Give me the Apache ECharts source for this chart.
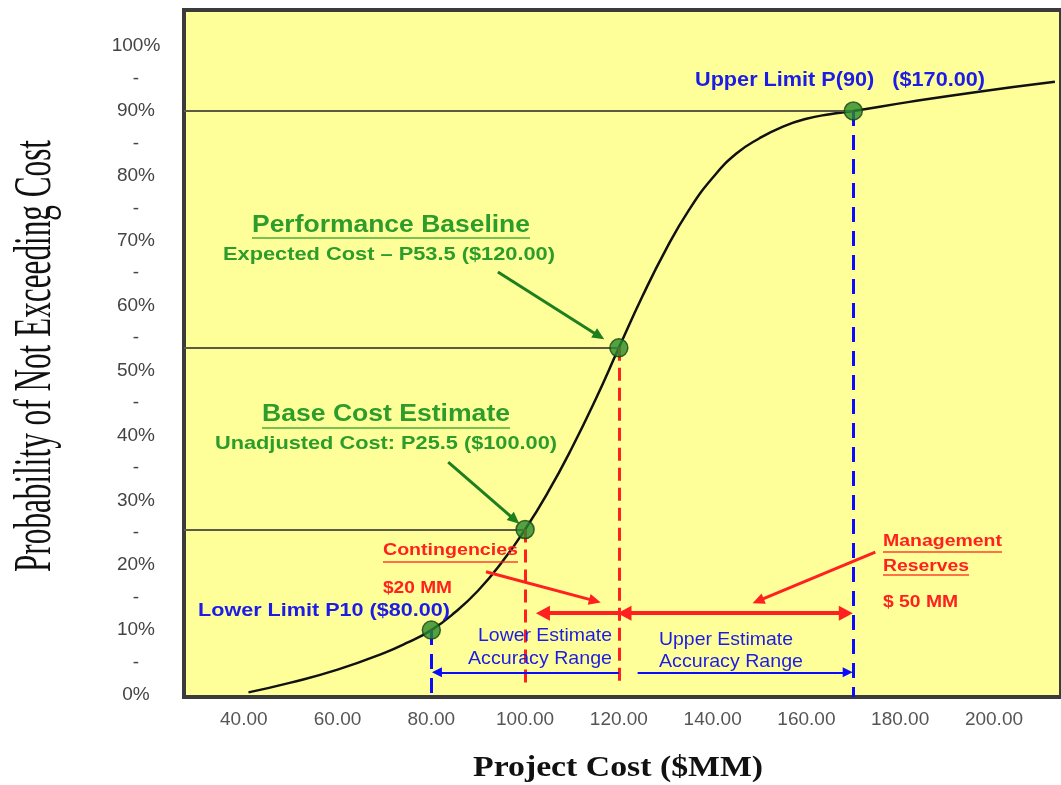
<!DOCTYPE html>
<html>
<head>
<meta charset="utf-8">
<script src="https://cdn.jsdelivr.net/npm/echarts@6/dist/echarts.min.js"></script>
<style>
  html, body { margin: 0; padding: 0; background: #ffffff; }
  #chart { width: 1061px; height: 785px; }
</style>
</head>
<body>
<div id="chart"></div>
<script>
// Cumulative cost distribution (S-curve): project cost ($MM) vs. probability of not exceeding it (%)
const costX = [41, 50, 60, 70, 75, 80, 85, 90, 95, 100, 105, 110, 115, 120, 125, 130, 135, 140, 145, 150, 155, 160, 165, 170, 182, 196, 213];
const probY = [0.4, 1.9, 3.9, 6.5, 8.1, 10.0, 12.7, 16.1, 20.4, 25.5, 31.4, 38.1, 45.5, 53.5, 61.4, 68.6, 74.8, 79.7, 83.4, 85.8, 87.6, 88.8, 89.5, 90.0, 91.4, 92.9, 94.5];

// Key estimate points on the curve: lower limit, base cost, performance baseline, upper limit
const keyCost = [80, 100, 120, 170];
const keyProb = [10, 25.5, 53.5, 90];

// Axis tick values
const costTicks = [40, 60, 80, 100, 120, 140, 160, 180, 200];
const probTicks = [0, 5, 10, 15, 20, 25, 30, 35, 40, 45, 50, 55, 60, 65, 70, 75, 80, 85, 90, 95, 100];

// Axis extents
const COST_MIN = 27.25, COST_MAX = 214.3;
const PROB_MIN = -0.31, PROB_MAX = 105.56;

// Heights of the range arrows along the bottom
const RESERVE_ARROW_Y = 12.6;
const ACCURACY_ARROW_Y = 3.5;
const CONTINGENCY_DASH_END = 1.85;

const BLUE = '#1c1ce6', BLUE_LINE = '#0b0bff';
const GREEN = '#2c9c2c', GREEN_ARROW = '#1f7f1f';
const RED = '#ff2020';
const GUIDE = '#5c5c46';

const [lowCost, baseCost, expCost, upCost] = keyCost;
const [lowP, baseP, expP, upP] = keyProb;
const contingency = expCost - baseCost;
const reserves = upCost - expCost;

const money = v => '$' + v.toFixed(2);

const chart = echarts.init(document.getElementById('chart'), null, { renderer: 'canvas' });

// Lines that hang off the key points
const guideLines = [];
// horizontal guides from the probability axis to the key points
[1, 2, 3].forEach(i => {
  guideLines.push([
    { coord: [COST_MIN, keyProb[i]], symbol: 'none', lineStyle: { color: GUIDE, width: 2, type: 'solid' } },
    { coord: [keyCost[i], keyProb[i]], symbol: 'none' }
  ]);
});
// blue dashed drops at the lower and upper limits
[0, 3].forEach(i => {
  guideLines.push([
    { coord: [keyCost[i], keyProb[i]], symbol: 'none', lineStyle: { color: BLUE_LINE, width: 3, type: [15, 9] } },
    { coord: [keyCost[i], PROB_MIN], symbol: 'none' }
  ]);
});
// red dashed drops at base cost and expected cost
[1, 2].forEach(i => {
  guideLines.push([
    { coord: [keyCost[i], keyProb[i]], symbol: 'none', lineStyle: { color: RED, width: 3, type: [13, 7] } },
    { coord: [keyCost[i], CONTINGENCY_DASH_END], symbol: 'none' }
  ]);
});
// contingency arrow (expected cost back to base cost)
guideLines.push([
  { coord: [expCost, RESERVE_ARROW_Y], symbol: 'none', lineStyle: { color: RED, width: 4, type: 'solid' } },
  { coord: [baseCost + 3.8, RESERVE_ARROW_Y], symbol: 'triangle', symbolSize: [15, 14] }
]);
// management reserve arrow (expected cost to upper limit)
guideLines.push([
  { coord: [expCost + 1.2, RESERVE_ARROW_Y], symbol: 'triangle', symbolSize: [15, 14], lineStyle: { color: RED, width: 4, type: 'solid' } },
  { coord: [upCost - 1.6, RESERVE_ARROW_Y], symbol: 'triangle', symbolSize: [15, 14] }
]);
// accuracy range arrows
guideLines.push([
  { coord: [expCost, ACCURACY_ARROW_Y], symbol: 'none', lineStyle: { color: BLUE_LINE, width: 2, type: 'solid' } },
  { coord: [lowCost + 1.2, ACCURACY_ARROW_Y], symbol: 'triangle', symbolSize: [10, 10] }
]);
guideLines.push([
  { coord: [expCost + 4, ACCURACY_ARROW_Y], symbol: 'none', lineStyle: { color: BLUE_LINE, width: 2, type: 'solid' } },
  { coord: [upCost - 1.2, ACCURACY_ARROW_Y], symbol: 'triangle', symbolSize: [10, 10] }
]);

// Callout leaders from the annotation text towards the marks
const callouts = [
  { from: [94.2, 65.2], to: [115.8, 55.3], color: GREEN_ARROW },
  { from: [83.6, 35.9], to: [97.8, 27.0], color: GREEN_ARROW },
  { from: [91.65, 19.0], to: [114.9, 14.5], color: RED },
  { from: [174.7, 22.0], to: [149.7, 14.5], color: RED }
];
const calloutLines = callouts.map(c => [
  { coord: c.from, symbol: 'none', lineStyle: { color: c.color, width: 3, type: 'solid' } },
  { coord: c.to, symbol: 'triangle', symbolSize: [11, 12] }
]);

// Text annotations: [text, left, centre y, font size, weight, colour, target width, underline y]
const notes = [
  [`Upper Limit P(${upP})   (${money(upCost)})`, 695, 80, 20, 'bold', BLUE, 290, null],
  ['Performance Baseline', 252, 226, 23, 'bold', GREEN, 278, 238],
  [`Expected Cost \u2013 P${expP} (${money(expCost)})`, 223, 255, 18.5, 'bold', GREEN, 332, null],
  ['Base Cost Estimate', 262, 415, 23, 'bold', GREEN, 248, 428],
  [`Unadjusted Cost: P${baseP} (${money(baseCost)})`, 215, 444, 18.5, 'bold', GREEN, 342, null],
  ['Contingencies', 383, 551, 16, 'bold', RED, 135, 562],
  [`$${contingency} MM`, 383, 589, 16, 'bold', RED, 69, null],
  ['Management', 883, 542, 16, 'bold', RED, 119, 552],
  ['Reserves', 883, 567, 16, 'bold', RED, 86, 575],
  [`$ ${reserves} MM`, 883, 603, 16, 'bold', RED, 75, null],
  [`Lower Limit P${lowP} (${money(lowCost)})`, 198, 611, 19, 'bold', BLUE, 252, null],
  ['Lower Estimate', 478, 636, 18.5, 'normal', BLUE, 134, null],
  ['Accuracy Range', 468, 659, 18.5, 'normal', BLUE, 144, null],
  ['Upper Estimate', 659, 640, 18.5, 'normal', BLUE, 134, null],
  ['Accuracy Range', 659, 662, 18.5, 'normal', BLUE, 144, null]
];

const measureCtx = document.createElement('canvas').getContext('2d');
function widthScale(text, font, target) {
  measureCtx.font = font;
  return target / measureCtx.measureText(text).width;
}

const graphics = [];
notes.forEach(([text, left, cy, size, weight, color, width, uy]) => {
  const font = `${weight} ${size}px "Liberation Sans", Arial, sans-serif`;
  graphics.push({
    type: 'text', x: left, y: cy, z: 20,
    scaleX: widthScale(text, font, width),
    style: { text, font, fill: color, align: 'left', verticalAlign: 'middle' }
  });
  if (uy !== null) {
    graphics.push({
      type: 'line', z: 20,
      shape: { x1: left, y1: uy, x2: left + width, y2: uy },
      style: { stroke: color, lineWidth: 1.6, opacity: 0.85 }
    });
  }
});

// Axis titles
const yTitle = 'Probability of Not Exceeding Cost';
const yTitleFont = '53px "Liberation Serif", "Times New Roman", serif';
graphics.push({
  type: 'text', x: 36, y: 356, rotation: Math.PI / 2, z: 20,
  scaleX: widthScale(yTitle, yTitleFont, 432),
  style: { text: yTitle, font: yTitleFont, fill: '#111', align: 'center', verticalAlign: 'middle' }
});
const xTitle = 'Project Cost ($MM)';
const xTitleFont = 'bold 30px "Liberation Serif", "Times New Roman", serif';
graphics.push({
  type: 'text', x: 618, y: 768, z: 20,
  scaleX: widthScale(xTitle, xTitleFont, 290),
  style: { text: xTitle, font: xTitleFont, fill: '#111', align: 'center', verticalAlign: 'middle' }
});

const option = {
  animation: false,
  backgroundColor: '#ffffff',
  grid: {
    left: 184, top: 10, right: -6, bottom: 88,
    show: true, backgroundColor: '#FFFF99',
    borderColor: '#3b3b3b', borderWidth: 4
  },
  xAxis: {
    type: 'value', min: COST_MIN, max: COST_MAX,
    axisLine: { show: true, onZero: false, lineStyle: { color: '#3b3b3b', width: 4 } },
    axisTick: { show: false },
    splitLine: { show: false },
    axisLabel: {
      customValues: costTicks,
      formatter: v => v.toFixed(2),
      fontFamily: '"Liberation Sans", Arial, sans-serif',
      fontSize: 19, color: '#555555', margin: 13
    }
  },
  yAxis: {
    type: 'value', min: PROB_MIN, max: PROB_MAX,
    axisLine: { show: true, onZero: false, lineStyle: { color: '#3b3b3b', width: 4 } },
    axisTick: { show: false },
    splitLine: { show: false },
    axisLabel: {
      customValues: probTicks,
      formatter: v => (v % 10 === 0 ? v + '%' : '-'),
      fontFamily: '"Liberation Sans", Arial, sans-serif',
      fontSize: 19, color: '#444444', align: 'center', margin: 48
    }
  },
  series: [
    {
      name: 'guides', type: 'line', data: [], z: 2, silent: true,
      markLine: {
        silent: true, animation: false, symbol: ['none', 'none'],
        label: { show: false }, emphasis: { disabled: true },
        data: guideLines.concat(calloutLines)
      }
    },
    {
      name: 'Cumulative probability', type: 'line', z: 3,
      data: costX.map((c, i) => [c, probY[i]]),
      smooth: 0.5, showSymbol: false, symbol: 'none',
      lineStyle: { color: '#111111', width: 2.5 }
    },
    {
      name: 'Key estimates', type: 'scatter', z: 5,
      data: keyCost.map((c, i) => [c, keyProb[i]]),
      symbolSize: 18,
      itemStyle: { color: '#2a8a2a', borderColor: '#154515', borderWidth: 1.5 }
    }
  ],
  graphic: graphics
};

chart.setOption(option);
</script>
</body>
</html>
